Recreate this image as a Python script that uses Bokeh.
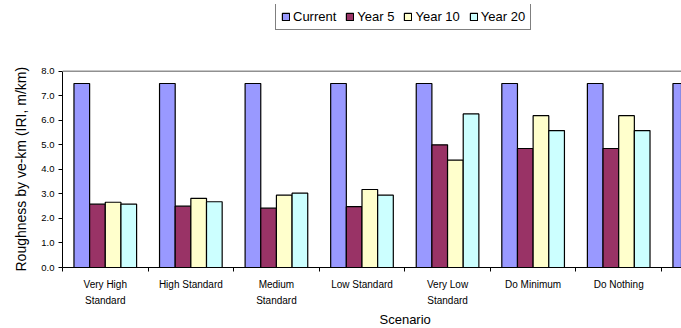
from bokeh.plotting import figure
from bokeh.models import FixedTicker, Legend, LegendItem, Span, Title
from bokeh.embed import file_html
from bokeh.resources import INLINE

scenarios = ["Very High\nStandard", "High Standard", "Medium\nStandard", "Low Standard",
             "Very Low\nStandard", "Do Minimum", "Do Nothing", "Optimal"]
series = ["Current", "Year 5", "Year 10", "Year 20"]
current = [7.5, 7.5, 7.5, 7.5, 7.5, 7.5, 7.5, 7.5]
year5 = [2.58, 2.50, 2.42, 2.48, 5.00, 4.85, 4.85]
year10 = [2.66, 2.82, 2.95, 3.18, 4.38, 6.19, 6.19]
year20 = [2.58, 2.68, 3.03, 2.95, 6.26, 5.58, 5.58]
y_ticks = [0, 1, 2, 3, 4, 5, 6, 7, 8]
colors = ["#9999FF", "#993366", "#FFFFCC", "#CCFFFF"]

values = [current, year5, year10, year20]
bar_w = 0.183

p = figure(width=681, height=326, x_range=(0, 7.234), y_range=(0, 10.72),
           output_backend="svg", toolbar_location=None,
           min_border_left=61, min_border_right=0, min_border_top=4, min_border_bottom=57)
p.outline_line_color = None
p.grid.visible = False
p.background_fill_color = "white"

renderers = []
for k, (name, vals, col) in enumerate(zip(series, values, colors)):
    xs = [i + 0.5 + (k - 1.5) * bar_w for i in range(len(vals))]
    r = p.vbar(x=xs, top=vals, width=bar_w, bottom=0, fill_color=col,
               line_color="black", line_width=1.2)
    renderers.append((name, r))

# x axis
p.xaxis.ticker = FixedTicker(ticks=[i + 0.5 for i in range(len(scenarios))],
                             minor_ticks=list(range(len(scenarios) + 1)))
p.xaxis.major_label_overrides = {i + 0.5: s for i, s in enumerate(scenarios)}
p.xaxis.major_tick_line_color = None
p.xaxis.major_tick_out = 0
p.xaxis.major_tick_in = 0
p.xaxis.minor_tick_line_color = "black"
p.xaxis.minor_tick_out = 4
p.xaxis.minor_tick_in = 0
p.xaxis.axis_line_color = "black"
p.xaxis.major_label_standoff = 7
p.xaxis.major_label_text_font = "Liberation Sans"
p.xaxis.major_label_text_font_size = "10px"
p.xaxis.major_label_text_color = "black"
p.xaxis.major_label_text_line_height = 1.5

# y axis
p.yaxis.ticker = FixedTicker(ticks=y_ticks)
p.yaxis.bounds = (0, 8)
p.yaxis.major_label_overrides = {t: f"{t:.1f}" for t in y_ticks}
p.yaxis.minor_tick_line_color = None
p.yaxis.major_tick_out = 4
p.yaxis.major_tick_in = 0
p.yaxis.major_tick_line_color = "black"
p.yaxis.axis_line_color = "black"
p.yaxis.major_label_standoff = 4
p.yaxis.major_label_text_font = "Liberation Sans"
p.yaxis.major_label_text_font_size = "9.5px"
p.yaxis.major_label_text_color = "black"

p.add_layout(Span(location=8, dimension="width", line_color="#909090", line_width=1.5))

p.add_layout(Title(text="Roughness by ve-km (IRI, m/km)", align="left", offset=-4,
                   text_font="Liberation Sans", text_font_size="14px",
                   text_font_style="normal", text_color="black", standoff=20), "left")

p.add_layout(Title(text="Scenario", align="left", offset=317, text_font="Liberation Sans",
                   text_font_size="13px", text_font_style="normal", text_color="black",
                   standoff=0), "below")

legend = Legend(items=[LegendItem(label=n, renderers=[r]) for n, r in renderers],
                orientation="horizontal", location=(213, 237),
                label_text_font="Liberation Sans", label_text_font_size="13px",
                label_text_color="black",
                glyph_width=9, glyph_height=9, label_standoff=3, spacing=9,
                padding=5, margin=0, border_line_color="black", border_line_width=1,
                background_fill_alpha=1.0, label_height=13)
p.add_layout(legend, "center")

open("out.html", "w").write(file_html(p, INLINE))
